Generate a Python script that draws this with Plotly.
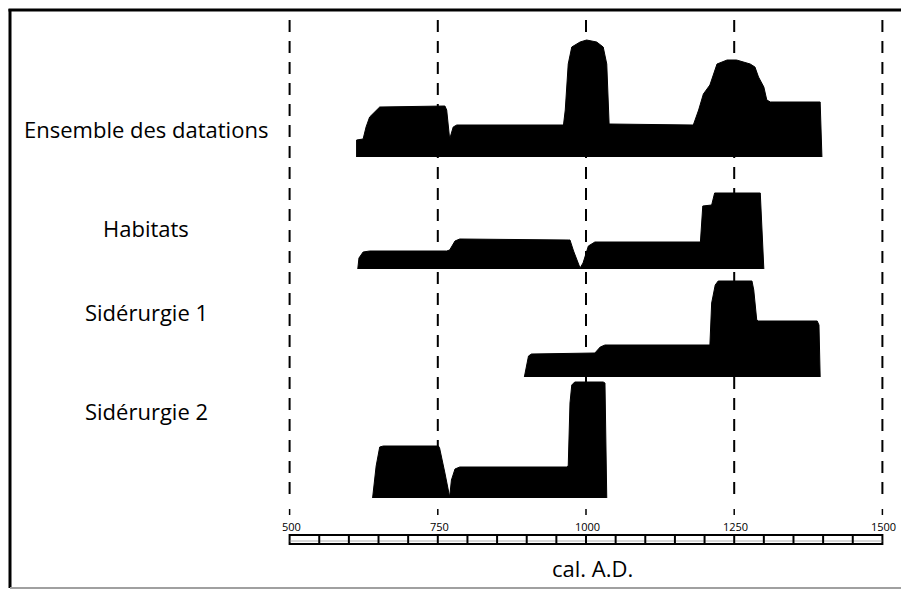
import plotly.graph_objects as go

# ---------------- data ----------------
categories = ["Ensemble des datations", "Habitats", "Sidérurgie 1", "Sidérurgie 2"]
tick_years = [500, 750, 1000, 1250, 1500]
tick_labels = ["500", "750", "1000", "1250", "1500"]
axis_title = "cal. A.D."
scale_step = 50

ens_years = [613, 613, 624, 629, 635, 652, 762, 765, 770, 776, 782, 962, 965, 970, 976, 990,
             1001, 1018, 1029, 1035, 1039, 1181, 1190, 1198, 1209, 1215, 1221, 1238, 1254,
             1277, 1285, 1291, 1300, 1305, 1311, 1395, 1398]
ens_heights = [0, 17, 18, 30, 40, 50, 51, 47, 18, 30, 32, 32, 47, 93, 110, 115,
               117, 115, 110, 93, 33, 32, 47, 63, 72, 83, 93, 97, 97,
               93, 90, 80, 70, 57, 55, 55, 0]

hab_years = [615, 617, 624, 635, 765, 770, 779, 787, 970, 973, 979, 990, 995, 1004, 1015,
             1193, 1197, 1212, 1217, 1294, 1300]
hab_heights = [0, 11, 17, 18, 18, 19, 28, 30, 29, 29, 18, 1, 6, 23, 27,
               27, 63, 64, 76, 76, 0]

sid1_years = [896, 903, 908, 1015, 1024, 1032, 1209, 1212, 1218, 1223, 1280, 1283, 1288,
              1291, 1390, 1393, 1395]
sid1_heights = [0, 21, 23, 24, 30, 32, 32, 74, 92, 96, 96, 87, 57, 56, 56, 52, 0]

sid2_years = [640, 646, 652, 658, 751, 753, 762, 770, 773, 779, 787, 967, 970, 973, 976,
              981, 1029, 1032, 1035]
sid2_heights = [0, 32, 51, 52, 52, 50, 25, 1, 18, 29, 31, 31, 32, 95, 113, 116, 116, 115, 0]

series = [(ens_years, ens_heights), (hab_years, hab_heights),
          (sid1_years, sid1_heights), (sid2_years, sid2_heights)]

# ---------------- layout geometry ----------------
W, H = 901, 590
PX500, PX1500 = 289.6, 882.4
S = (PX1500 - PX500) / (tick_years[-1] - tick_years[0])
X0 = tick_years[0] - PX500 / S
X1 = X0 + W / S


def X(px):
    return X0 + px / S


def Y(py):
    return H - py


baselines_py = [157, 269, 377, 498]
label_py = [129, 228, 312, 411]
FONT = "Open Sans"

fig = go.Figure()

for (yrs, hts), bpy in zip(series, baselines_py):
    b = Y(bpy)
    fig.add_trace(go.Scatter(
        x=yrs, y=[b + h for h in hts], mode="lines", fill="toself",
        fillcolor="black", line=dict(color="black", width=1),
        hoverinfo="skip", showlegend=False))

shapes = []
# dashed reference lines
for t in tick_years:
    shapes.append(dict(type="line", xref="x", yref="y", x0=t, x1=t, y0=Y(20), y1=Y(503),
                       line=dict(color="black", width=2, dash="12px,9px"), layer="below"))
    shapes.append(dict(type="line", xref="x", yref="y", x0=t, x1=t, y0=Y(509), y1=Y(515),
                       line=dict(color="black", width=1.5)))
# scale bar
shapes.append(dict(type="rect", xref="x", yref="y", x0=tick_years[0], x1=tick_years[-1],
                   y0=Y(544), y1=Y(535), line=dict(color="black", width=2), fillcolor="white"))
shapes.append(dict(type="line", xref="x", yref="y", x0=tick_years[0], x1=tick_years[-1],
                   y0=Y(541), y1=Y(541), line=dict(color="#9a9a9a", width=0.8)))
for t in range(tick_years[0] + scale_step, tick_years[-1], scale_step):
    shapes.append(dict(type="line", xref="x", yref="y", x0=t, x1=t, y0=Y(535), y1=Y(544),
                       line=dict(color="black", width=2)))
# frame
shapes.append(dict(type="line", xref="paper", yref="paper", x0=10 / W, x1=10 / W,
                   y0=1 - 9 / H, y1=1 - 588 / H, line=dict(color="black", width=3)))
shapes.append(dict(type="line", xref="paper", yref="paper", x0=8.5 / W, x1=1,
                   y0=1 - 10 / H, y1=1 - 10 / H, line=dict(color="black", width=3)))
shapes.append(dict(type="line", xref="paper", yref="paper", x0=10 / W, x1=1,
                   y0=1 - 588 / H, y1=1 - 588 / H, line=dict(color="#a0a0a0", width=2)))

annotations = []
for name, py in zip(categories, label_py):
    annotations.append(dict(x=X(146), y=Y(py), xref="x", yref="y", text=name,
                            showarrow=False, xanchor="center", yanchor="middle",
                            font=dict(family=FONT, size=22, color="black")))
for t, lab in zip(tick_years, tick_labels):
    annotations.append(dict(x=t, y=Y(526), xref="x", yref="y", text=lab, showarrow=False,
                            xanchor="center", yanchor="middle", xshift=1.5,
                            font=dict(family=FONT, size=11, color="black")))
annotations.append(dict(x=X(592.5), y=Y(568), xref="x", yref="y", text=axis_title,
                        showarrow=False, xanchor="center", yanchor="middle",
                        font=dict(family=FONT, size=22, color="black")))

fig.update_layout(
    width=W, height=H, margin=dict(l=0, r=0, t=0, b=0, pad=0),
    plot_bgcolor="white", paper_bgcolor="white",
    xaxis=dict(range=[X0, X1], visible=False, fixedrange=True),
    yaxis=dict(range=[0, H], visible=False, fixedrange=True),
    shapes=shapes, annotations=annotations, showlegend=False,
)

fig.write_html(
    "out.html",
    config={"displayModeBar": False},
    post_script="document.body.style.margin='0';document.body.style.padding='0';"
                "document.body.style.overflow='hidden';",
)
